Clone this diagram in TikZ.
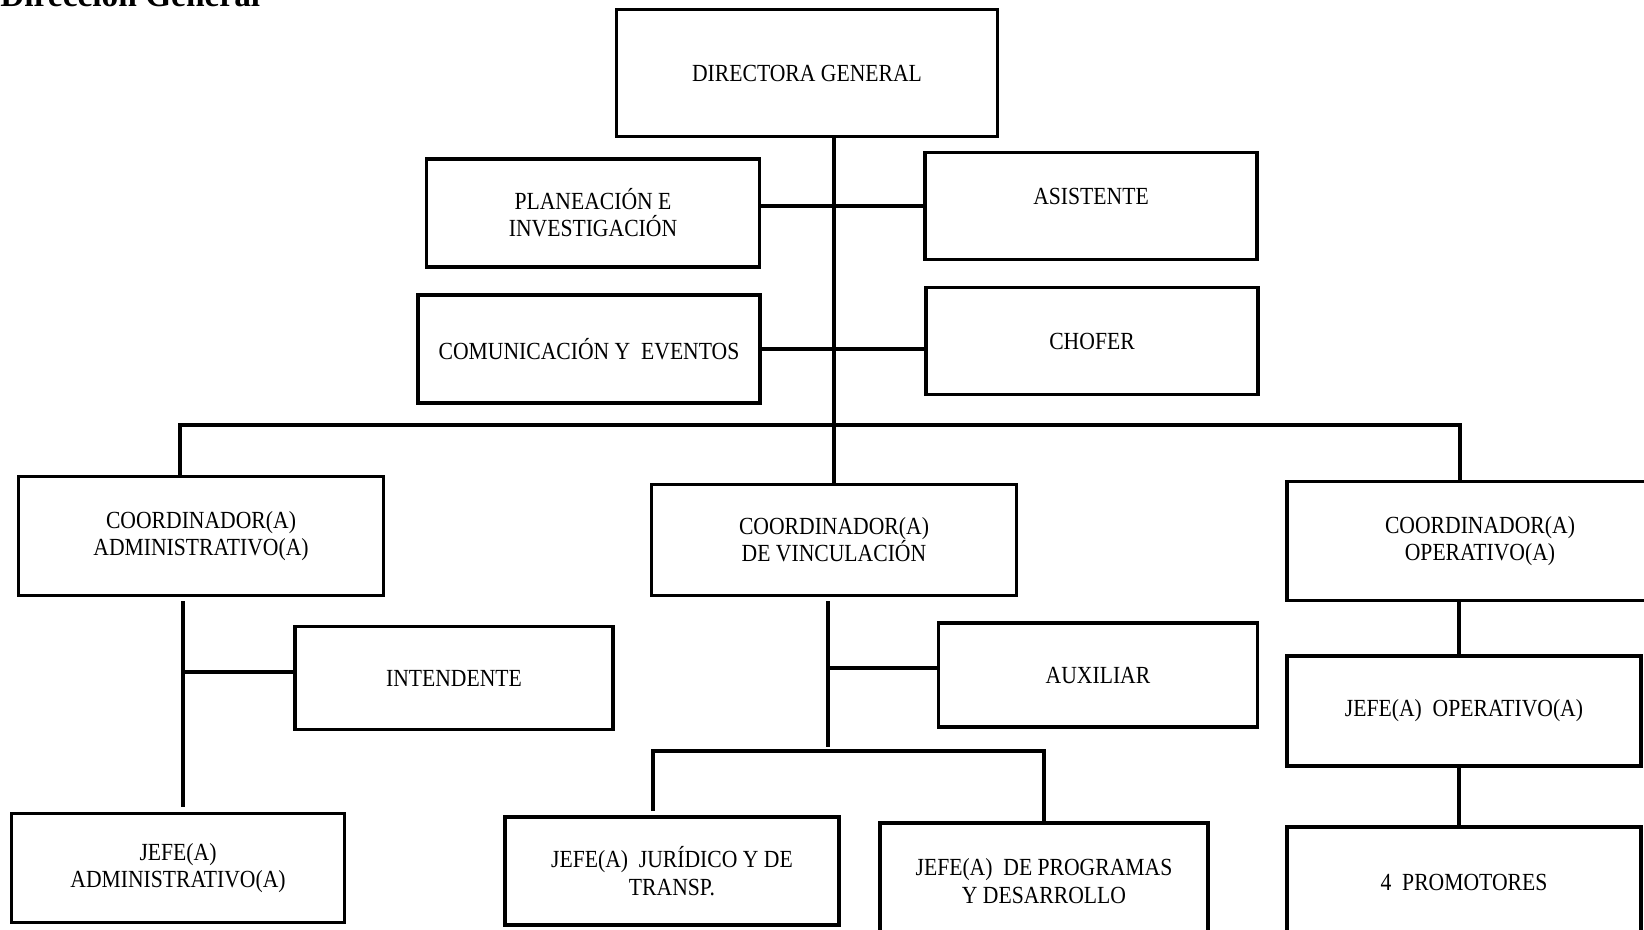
\documentclass[tikz,border=0pt]{standalone}
\usepackage{fontspec}
\setmainfont{Liberation Serif}[FakeStretch=0.88]
\newfontfamily\titulofont{Liberation Serif}
\usetikzlibrary{positioning}

\begin{document}
\begin{tikzpicture}[
  x=0.02cm, y=-0.02cm,
  puesto/.style={draw=black, line width=2.2pt, align=center, inner sep=2pt, font=\fontsize{14}{15.5}\selectfont},
  tam/.style 2 args={minimum width={#1*0.02cm}, minimum height={#2*0.02cm}},
  linea/.style={line width=2.2pt}
]
  \useasboundingbox (0,0) rectangle (1644,930);

  \node (titulo) [anchor=base west, inner sep=0pt, font=\titulofont\bfseries\fontsize{19}{22}\selectfont] at (0,6) {Dirección General};

  \node (dir) [puesto, tam={381}{127}] at (807,73) {DIRECTORA GENERAL};

  \node (plan) [puesto, tam={333}{108}] at (593,213) {PLANEACIÓN E\\INVESTIGACIÓN};
  \node (asis) [puesto, tam={332}{107}, text depth=11pt] at (1091,206) {ASISTENTE};
  \node (comu) [puesto, tam={342}{108}] at (589,349) {COMUNICACIÓN Y \ EVENTOS};
  \node (chof) [puesto, tam={332}{107}] at (1092,341) {CHOFER};

  \node (cadm) [puesto, tam={365}{119}] at (201,536) {COORDINADOR(A)\\ADMINISTRATIVO(A)};
  \node (cvin) [puesto, tam={365}{111}] at (834,540) {COORDINADOR(A)\\DE VINCULACIÓN};
  \node (cope) [puesto, tam={386}{119}] at (1480,541) {COORDINADOR(A)\\OPERATIVO(A)};

  \node (inte) [puesto, tam={318}{103}] at (454,678) {INTENDENTE};
  \node (jadm) [puesto, tam={333}{109}] at (178,868) {JEFE(A)\\ADMINISTRATIVO(A)};

  \node (auxi) [puesto, tam={319}{104}] at (1098,675) {AUXILIAR};
  \node (jjur) [puesto, tam={334}{108}] at (672,871) {JEFE(A) \ JURÍDICO Y DE\\TRANSP.};
  \node (jpro) [puesto, tam={328}{116}] at (1044,881) {JEFE(A) \ DE PROGRAMAS\\Y DESARROLLO};

  \node (jope) [puesto, tam={354}{110}] at (1464,711) {JEFE(A) \ OPERATIVO(A)};
  \node (prom) [puesto, tam={354}{112}, below=1.14cm of jope] {4 \ PROMOTORES};

  % tronco
  \draw[linea] (dir.south -| cvin.north) -- (cvin.north);
  \draw[linea] (asis.west -| plan.east) -- (asis.west);
  \draw[linea] (comu.east) -- (comu.east -| chof.west);

  % barra de coordinaciones
  \coordinate (barI) at (180,425);
  \coordinate (barD) at (1460,425);
  \draw[linea] (barI |- cadm.north) -- (barI) -- (barD) -- (barD |- cope.north);

  % administrativo
  \coordinate (admA) at (183,601);
  \coordinate (admB) at (183,807);
  \coordinate (admC) at (183,672);
  \draw[linea] (admA) -- (admB);
  \draw[linea] (admC) -- (admC -| inte.west);

  % vinculacion
  \coordinate (vinA) at (828,601);
  \coordinate (vinB) at (828,747);
  \coordinate (vinC) at (828,668);
  \draw[linea] (vinA) -- (vinB);
  \draw[linea] (vinC) -- (vinC -| auxi.west);
  \coordinate (subI) at (653,751);
  \coordinate (subD) at (1044,751);
  \coordinate (jjurT) at (653,811);
  \draw[linea] (jjurT) -- (subI) -- (subD) -- (subD |- jpro.north);

  % operativo
  \coordinate (opeX) at (1459,0);
  \draw[linea] (opeX |- cope.south) -- (opeX |- jope.north);
  \draw[linea] (opeX |- jope.south) -- (opeX |- prom.north);
\end{tikzpicture}
\end{document}
